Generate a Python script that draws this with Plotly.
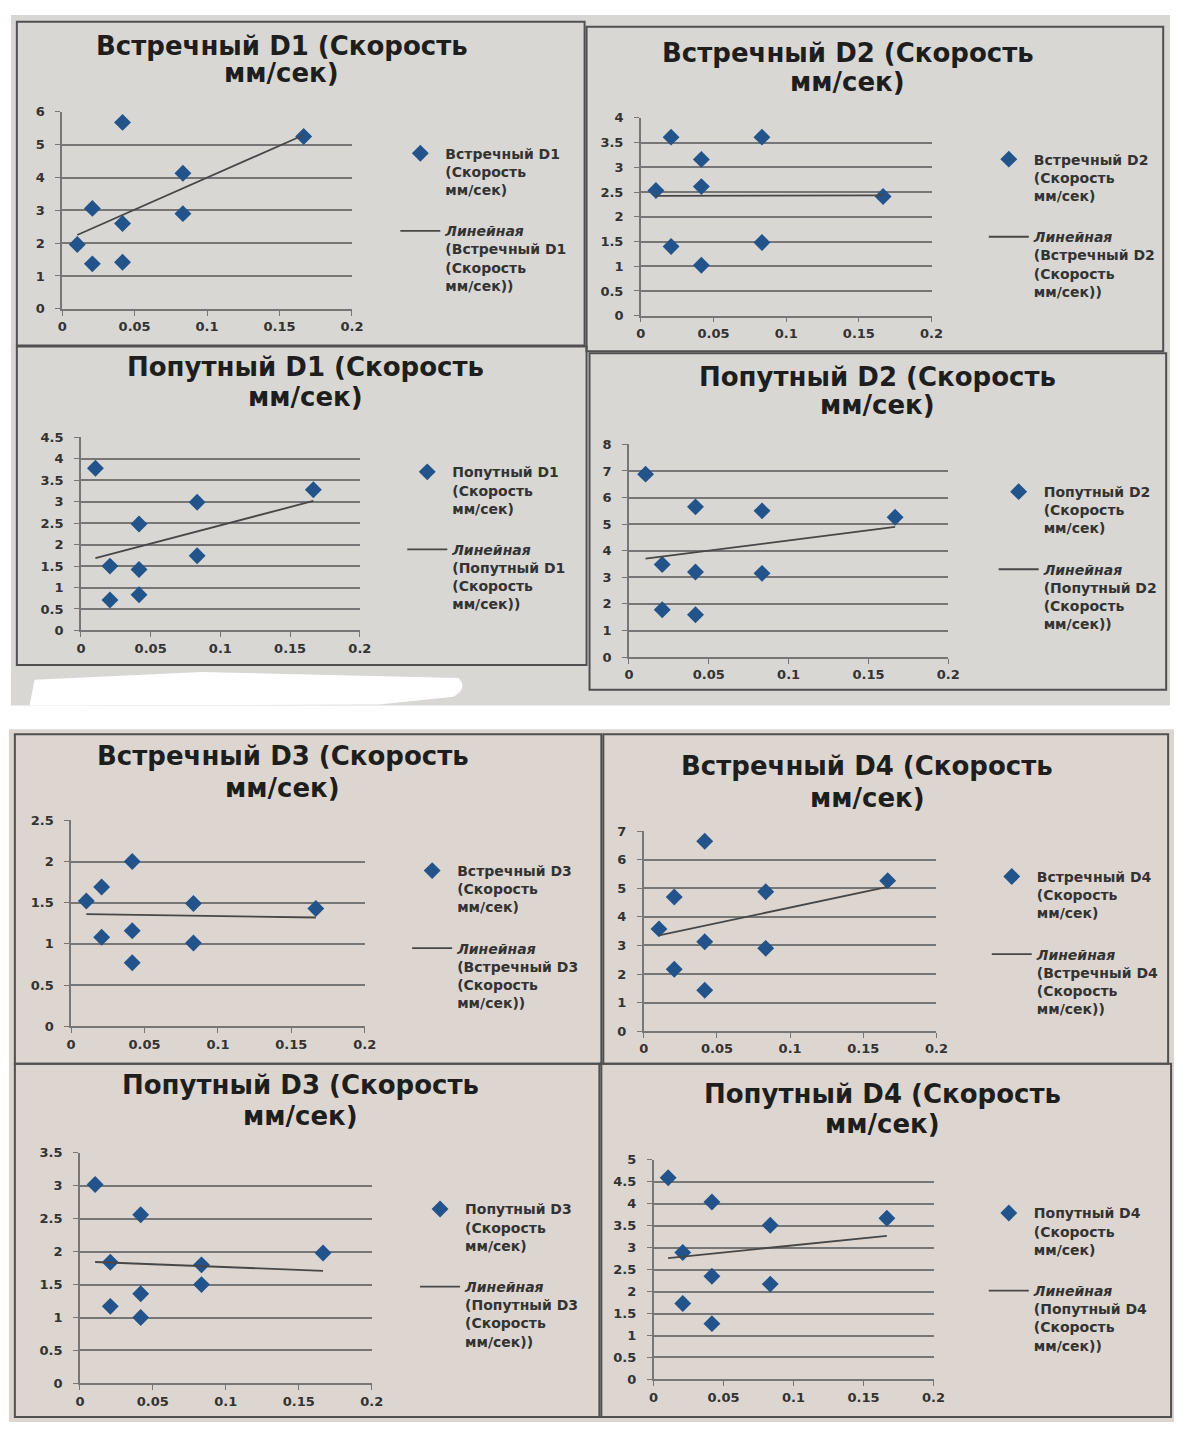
import numpy as np
import plotly.graph_objects as go

W, H = 1189, 1430

# Interval (hours) of each of the nine measurements, shared by every series
interval = [1/96, 1/48, 1/48, 1/24, 1/24, 1/24, 1/12, 1/12, 1/6]

# Speed, mm/sec
vstr_d1 = [1.96, 3.06, 1.37, 5.68, 2.60, 1.42, 4.13, 2.90, 5.25]
vstr_d2 = [2.53, 3.61, 1.40, 3.16, 2.61, 1.02, 3.61, 1.48, 2.41]
pop_d1 = [3.78, 1.50, 0.71, 2.48, 1.42, 0.83, 2.99, 1.74, 3.28]
pop_d2 = [6.88, 3.48, 1.78, 5.65, 3.20, 1.59, 5.50, 3.15, 5.26]
vstr_d3 = [1.52, 1.69, 1.08, 2.00, 1.16, 0.77, 1.49, 1.01, 1.43]
vstr_d4 = [3.58, 4.70, 2.17, 6.65, 3.13, 1.43, 4.88, 2.90, 5.27]
pop_d3 = [3.02, 1.84, 1.17, 2.56, 1.36, 1.00, 1.80, 1.50, 1.98]
pop_d4 = [4.59, 2.89, 1.73, 4.04, 2.35, 1.27, 3.51, 2.17, 3.67]

series_names = ["Встречный D1", "Встречный D2", "Попутный D1", "Попутный D2",
                "Встречный D3", "Встречный D4", "Попутный D3", "Попутный D4"]
series_values = [vstr_d1, vstr_d2, pop_d1, pop_d2, vstr_d3, vstr_d4, pop_d3, pop_d4]
y_max = [6, 4, 4.5, 8, 2.5, 7, 3.5, 5]
y_step = [1, 0.5, 0.5, 1, 0.5, 1, 0.5, 0.5]
x_ticks = [0, 0.05, 0.1, 0.15, 0.2]

# Pixel geometry of each chart: plot box (x0, x1, y_top, y_bottom),
# title centre x with the two title line centres, legend anchor, outer frame
geom = [
    dict(plot=(58, 352, 106, 305), title=(281, 39, 67), legend=(396, 132), frame=(12, 15, 588, 342)),
    dict(plot=(645, 940, 112, 312), title=(855, 46, 76), legend=(993, 138), frame=(590, 20, 1175, 348)),
    dict(plot=(77, 360, 435, 630), title=(305, 364, 394), legend=(403, 454), frame=(12, 343, 590, 665)),
    dict(plot=(633, 957, 442, 657), title=(885, 374, 402), legend=(1003, 474), frame=(593, 350, 1178, 690)),
    dict(plot=(67, 365, 822, 1030), title=(282, 757, 789), legend=(408, 857), frame=(10, 735, 605, 1068)),
    dict(plot=(648, 945, 833, 1035), title=(875, 767, 799), legend=(996, 863), frame=(607, 735, 1180, 1068)),
    dict(plot=(76, 372, 1158, 1391), title=(300, 1089, 1121), legend=(416, 1199), frame=(10, 1068, 605, 1425)),
    dict(plot=(658, 942, 1165, 1387), title=(890, 1099, 1129), legend=(993, 1203), frame=(603, 1068, 1183, 1425)),
]


def px(x):
    return x / W


def py(y):
    return 1 - y / H


MARKER = "#22538a"
TEXT = "#333333"
GRID = "#767676"
FONT = "DejaVu Sans"

fig = go.Figure()
shapes = []
annotations = []
layout_axes = {}
legends = {}

# Two photographed sheets behind the charts
shapes.append(dict(type="rect", xref="paper", yref="paper", x0=px(6), x1=px(1182),
                   y0=py(706), y1=py(8), fillcolor="#d8d7d4", line=dict(width=0), layer="below"))
shapes.append(dict(type="rect", xref="paper", yref="paper", x0=px(4), x1=px(1186),
                   y0=py(1430), y1=py(730), fillcolor="#ddd6d0", line=dict(width=0), layer="below"))
# White patch over the lower-left of the first sheet
shapes.append(dict(type="path", xref="paper", yref="paper",
                   path=(f"M {px(30)},{py(680)} L {px(200)},{py(672)} L {px(460)},{py(678)} "
                         f"Q {px(470)},{py(688)} {px(455)},{py(697)} L {px(380)},{py(705)} "
                         f"L {px(25)},{py(706)} Z"),
                   fillcolor="white", line=dict(width=0), layer="above"))

for i, (name, vals, g) in enumerate(zip(series_names, series_values, geom)):
    k = i + 1
    xa = "x" if k == 1 else f"x{k}"
    ya = "y" if k == 1 else f"y{k}"
    lg = "legend" if k == 1 else f"legend{k}"
    x0, x1, yt, yb = g["plot"]

    fig.add_trace(go.Scatter(
        x=interval, y=vals, mode="markers", name=f"{name}<br>(Скорость<br>мм/сек)",
        marker=dict(symbol="diamond", size=13, color=MARKER),
        xaxis=xa, yaxis=ya, legend=lg, legendgroup=f"p{k}"))

    # Linear trend over the measured interval span
    slope, intercept = np.polyfit(interval, vals, 1)
    xs = np.array([min(interval), max(interval)])
    fig.add_trace(go.Scatter(
        x=xs, y=slope * xs + intercept, mode="lines",
        name=f"<i>Линейная</i><br>({name}<br>(Скорость<br>мм/сек))",
        line=dict(color="#474747", width=1.8),
        xaxis=xa, yaxis=ya, legend=lg, legendgroup=f"t{k}"))

    axis_font = dict(family=FONT, size=13, color=TEXT, weight="bold")
    layout_axes["xaxis" if k == 1 else f"xaxis{k}"] = dict(
        domain=[px(x0), px(x1)], anchor=ya, range=[0, 0.2], tickvals=x_ticks,
        ticktext=[f"{v:g}" for v in x_ticks], showgrid=False, zeroline=False,
        showline=True, linecolor=GRID, linewidth=1.5, ticks="outside", ticklen=5,
        tickcolor=GRID, tickfont=axis_font)
    layout_axes["yaxis" if k == 1 else f"yaxis{k}"] = dict(
        domain=[py(yb), py(yt)], anchor=xa, range=[0, y_max[i]], dtick=y_step[i],
        showgrid=True, gridcolor=GRID, gridwidth=1.5, zeroline=False,
        showline=True, linecolor=GRID, linewidth=1.5, ticks="outside", ticklen=5,
        tickcolor=GRID, tickfont=axis_font, ticklabelstandoff=8)

    lx, ly = g["legend"]
    legends[lg] = dict(x=px(lx), y=py(ly), xanchor="left", yanchor="top",
                       bgcolor="rgba(0,0,0,0)",
                       font=dict(family=FONT, size=14, color=TEXT, weight="bold"),
                       tracegroupgap=20, valign="top", itemwidth=40)

    tx, ty1, ty2 = g["title"]
    for line_text, ty in ((f"{name} (Скорость", ty1), ("мм/сек)", ty2)):
        annotations.append(dict(
            xref="paper", yref="paper", x=px(tx), y=py(ty), xanchor="center",
            yanchor="middle", text=f"<b>{line_text}</b>", showarrow=False,
            font=dict(family=FONT, size=26, color="#1e1e1e")))

    fx0, fy0, fx1, fy1 = g["frame"]
    shapes.append(dict(type="rect", xref="paper", yref="paper", x0=px(fx0), x1=px(fx1),
                       y0=py(fy1), y1=py(fy0), line=dict(color="#505050", width=2),
                       fillcolor="rgba(0,0,0,0)", layer="below"))

fig.update_layout(
    width=W, height=H, margin=dict(l=0, r=0, t=0, b=0),
    paper_bgcolor="white", plot_bgcolor="rgba(0,0,0,0)",
    showlegend=True, shapes=shapes, annotations=annotations,
    **layout_axes, **legends)

fig.write_html("out.html")
